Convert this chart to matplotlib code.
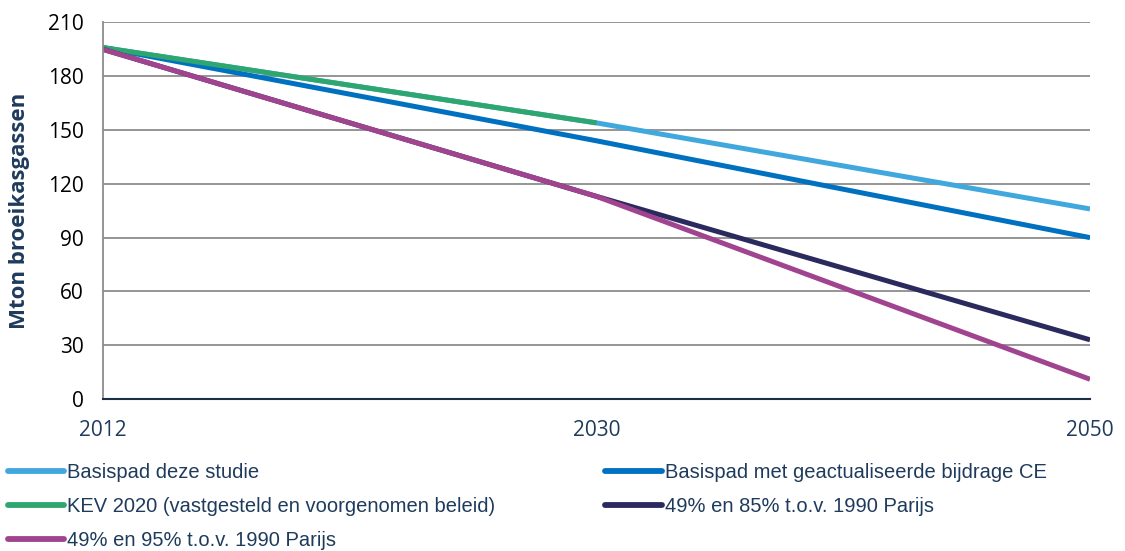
import matplotlib.pyplot as plt

years = ["2012", "2030", "2050"]
basispad = [196, 154, 106]
basispad_ce = [196, 144, 90]
kev2020 = [196, 154]
parijs_85 = [195, 113, 33]
parijs_95 = [195, 113, 11]

NAVY = "#1f3b5c"
TICKFONT = ["Open Sans", "DejaVu Sans"]

plt.rcParams["font.family"] = ["Liberation Sans", "DejaVu Sans"]

fig = plt.figure(figsize=(11.25, 5.51), dpi=100)
ax = fig.add_axes([0.0916, 0.2759, 0.8773, 0.6833])

x = list(range(len(years)))
lw = 3.6
l1, = ax.plot(x, basispad, color="#41a8de", lw=lw, solid_capstyle="butt", label="Basispad deze studie")
l2, = ax.plot(x, basispad_ce, color="#0070c0", lw=lw, solid_capstyle="butt", label="Basispad met geactualiseerde bijdrage CE")
l3, = ax.plot(x[:len(kev2020)], kev2020, color="#2ea66f", lw=lw, solid_capstyle="butt", label="KEV 2020 (vastgesteld en voorgenomen beleid)")
l4, = ax.plot(x, parijs_85, color="#2b2a5e", lw=lw, solid_capstyle="butt", label="49% en 85% t.o.v. 1990 Parijs")
l5, = ax.plot(x, parijs_95, color="#a0448f", lw=lw, solid_capstyle="butt", label="49% en 95% t.o.v. 1990 Parijs")

ax.set_xlim(0, 2)
ax.set_ylim(0, 210)
ax.set_yticks(range(0, 211, 30))
ax.set_xticks(x)
ax.set_xticklabels(years)
ax.yaxis.grid(True, color="#8c8c8c", lw=1.3)
ax.set_axisbelow(True)

for s in ["top", "right"]:
    ax.spines[s].set_visible(False)
ax.spines["left"].set_color("#8c8c8c")
ax.spines["left"].set_linewidth(1.3)
ax.spines["bottom"].set_color("#1c2e45")
ax.spines["bottom"].set_linewidth(1.5)
ax.tick_params(length=0)
ax.tick_params(axis="y", labelsize=15, pad=14, labelcolor="black")
ax.tick_params(axis="x", labelsize=15, pad=15, labelcolor=NAVY)
for t in ax.get_xticklabels() + ax.get_yticklabels():
    t.set_family(TICKFONT)

ax.set_ylabel("Mton broeikasgassen", fontsize=16, fontweight="bold", color=NAVY,
              family=TICKFONT)
ax.yaxis.set_label_coords(-0.074, 0.5)

leg = fig.legend(handles=[l1, l3, l5, l2, l4], ncol=2, frameon=False,
                 loc="upper left", bbox_to_anchor=(0.0, 0.175),
                 fontsize=14.5, labelcolor=NAVY, handlelength=2.8, handletextpad=0.15,
                 columnspacing=5.45, labelspacing=0.76, borderaxespad=0.0)
for h in leg.legend_handles:
    h.set_linewidth(4.2)
    h.set_solid_capstyle("round")

fig.savefig("out.png", dpi=100)
